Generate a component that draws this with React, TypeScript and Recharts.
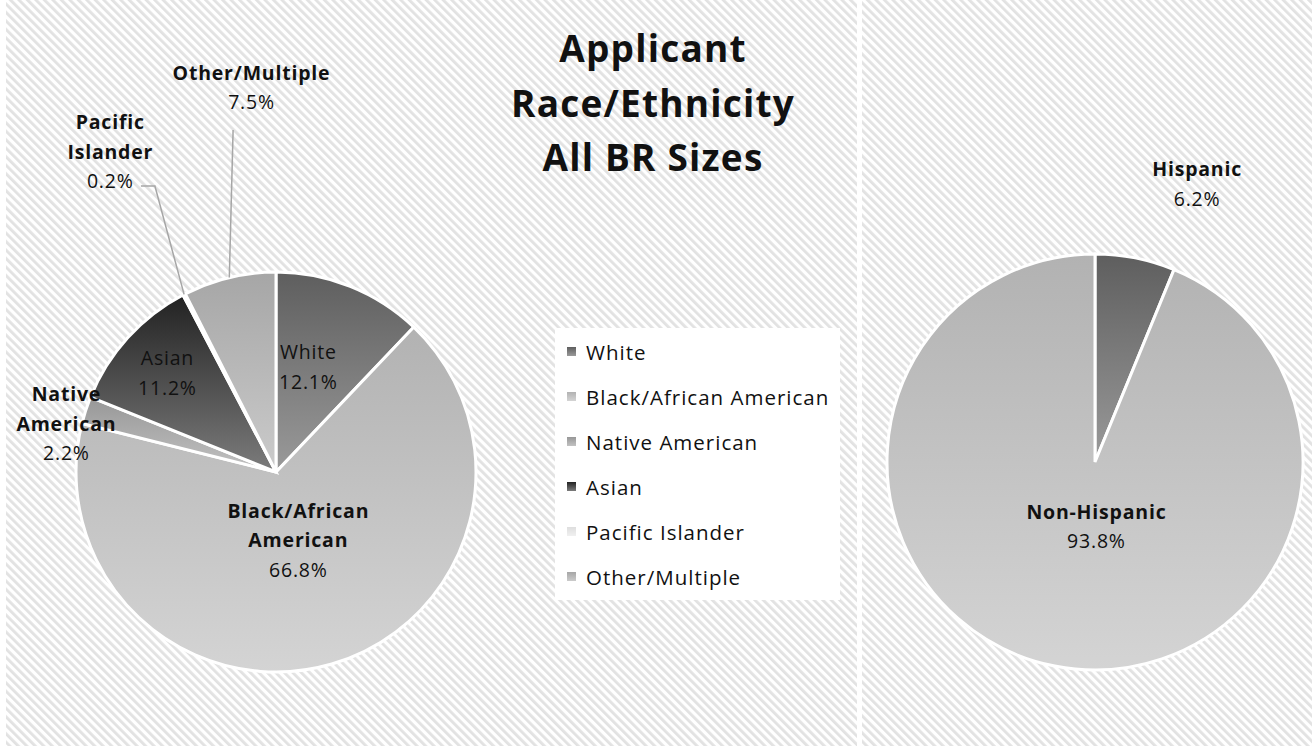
import React from 'react';
import { PieChart, Pie, Cell, Legend } from 'recharts';

// ---------- data ----------
const raceCategories = ['White', 'Black/African American', 'Native American', 'Asian', 'Pacific Islander', 'Other/Multiple'];
const raceValues = [12.1, 66.8, 2.2, 11.2, 0.2, 7.5];
const ethnicityCategories = ['Hispanic', 'Non-Hispanic'];
const ethnicityValues = [6.2, 93.8];
const titleLines = ['Applicant', 'Race/Ethnicity', 'All BR Sizes'];

const raceData = raceCategories.map((name, i) => ({ name, value: raceValues[i] }));
const ethData = ethnicityCategories.map((name, i) => ({ name, value: ethnicityValues[i] }));

// ---------- styles ----------
const FONT = "'Open Sans', 'Noto Sans', sans-serif";

const gradients: Record<string, [string, string]> = {
  'White': ['#5e5e5e', '#9a9a9a'],
  'Black/African American': ['#b2b2b2', '#d4d4d4'],
  'Native American': ['#979797', '#c2c2c2'],
  'Asian': ['#222222', '#7c7c7c'],
  'Pacific Islander': ['#dedede', '#f0f0f0'],
  'Other/Multiple': ['#a6a6a6', '#cbcbcb'],
  'Hispanic': ['#5e5e5e', '#9a9a9a'],
  'Non-Hispanic': ['#b2b2b2', '#d4d4d4'],
};
const gradId = (name: string) => 'g_' + name.replace(/[^A-Za-z]/g, '');

type Place = { lines: string[]; bold: boolean; rFrac: number; dAngle: number; leader?: 'elbow' | 'straight' };
const placement: Record<string, Place> = {
  'White': { lines: ['White'], bold: false, rFrac: 0.551, dAngle: 4.9 },
  'Black/African American': { lines: ['Black/African', 'American'], bold: true, rFrac: 0.357, dAngle: 1.7 },
  'Native American': { lines: ['Native', 'American'], bold: true, rFrac: 1.078, dAngle: 4.9 },
  'Asian': { lines: ['Asian'], bold: false, rFrac: 0.738, dAngle: -0.3 },
  'Pacific Islander': { lines: ['Pacific', 'Islander'], bold: true, rFrac: 1.807, dAngle: 0, leader: 'elbow' },
  'Other/Multiple': { lines: ['Other/Multiple'], bold: true, rFrac: 1.929, dAngle: -9.8, leader: 'straight' },
  'Hispanic': { lines: ['Hispanic'], bold: true, rFrac: 1.426, dAngle: -8.9 },
  'Non-Hispanic': { lines: ['Non-Hispanic'], bold: true, rFrac: 0.308, dAngle: 12.1 },
};

const RAD = Math.PI / 180;
const LH = 29.5;
const FS = 19.5;
const LS = 0.8;

const renderLabel = (props: any) => {
  const { cx, cy, midAngle, outerRadius, name, value } = props;
  const p = placement[name];
  if (!p) return null;
  const ang = (midAngle + p.dAngle) * RAD;
  const r = outerRadius * p.rFrac;
  const x = cx + r * Math.cos(ang);
  const y = cy - r * Math.sin(ang);
  const all = [...p.lines, `${Number(value).toFixed(1)}%`];
  const n = all.length;
  const top = y - ((n - 1) * LH) / 2;
  const edgeA = midAngle * RAD;
  const ex = cx + outerRadius * Math.cos(edgeA);
  const ey = cy - outerRadius * Math.sin(edgeA);
  let leader = null;
  if (p.leader === 'elbow') {
    const bx = x + 45, by = y + 35;
    leader = <polyline points={`${ex},${ey} ${bx},${by} ${x + 31},${by}`} fill="none" stroke="#a6a6a6" strokeWidth={1.5} />;
  } else if (p.leader === 'straight') {
    leader = <line x1={ex} y1={ey} x2={x - 18} y2={y + 43} stroke="#a6a6a6" strokeWidth={1.5} />;
  }
  return (
    <g>
      {leader}
      {all.map((t, i) => (
        <text key={i} x={x + LS / 2} y={top + i * LH} textAnchor="middle" dominantBaseline="central"
          fontFamily={FONT} fontSize={FS} letterSpacing={LS} fontWeight={p.bold && i < n - 1 ? 700 : 400} fill="#111">
          {t}
        </text>
      ))}
    </g>
  );
};

const Gradients = ({ names }: { names: string[] }) => (
  <defs>
    {names.map((n) => (
      <linearGradient key={n} id={gradId(n)} x1="0" y1="0" x2="0" y2="1">
        <stop offset="0%" stopColor={gradients[n][0]} />
        <stop offset="100%" stopColor={gradients[n][1]} />
      </linearGradient>
    ))}
  </defs>
);

const renderLegend = () => (
  <div style={{ background: '#ffffff', width: 285, height: 272, boxSizing: 'border-box', paddingTop: 1 }}>
    {raceCategories.map((n) => (
      <div key={n} style={{ display: 'flex', alignItems: 'center', height: 45, fontFamily: FONT, fontSize: 20.5, letterSpacing: 1.0, color: '#111' }}>
        <svg width={10} height={10} style={{ marginLeft: 12, marginRight: 9 }}>
          <rect x={0} y={0} width={9} height={9} fill={`url(#${gradId(n)})`} />
        </svg>
        <span>{n}</span>
      </div>
    ))}
  </div>
);

export default function App() {
  return (
    <div style={{ position: 'absolute', left: 0, top: 0, width: 1312, height: 746, background: '#fff', overflow: 'hidden' }}>
      <svg width={1312} height={746} style={{ position: 'absolute', left: 0, top: 0 }}>
        <defs>
          <pattern id="bgStripes" width={6} height={10} patternUnits="userSpaceOnUse" patternTransform="rotate(-45)">
            <rect x={0} y={0} width={2.8} height={10} fill="#e2e2e2" />
          </pattern>
        </defs>
        <rect x={6} y={0} width={851} height={746} fill="url(#bgStripes)" />
        <rect x={862} y={0} width={450} height={746} fill="url(#bgStripes)" />
      </svg>

      <div style={{ position: 'absolute', left: 403, top: 21, width: 500, textAlign: 'center', fontFamily: FONT, fontWeight: 700, fontSize: 37, letterSpacing: 1.2, lineHeight: '54.5px', color: '#111' }}>
        {titleLines.map((t) => <div key={t}>{t}</div>)}
      </div>

      <div style={{ position: 'absolute', left: 0, top: 0 }}>
        <PieChart width={857} height={746} margin={{ top: 0, right: 0, bottom: 0, left: 0 }}>
          <Gradients names={raceCategories} />
          <Pie data={raceData} dataKey="value" nameKey="name" cx={276} cy={472} outerRadius={200}
            startAngle={90} endAngle={-270} stroke="#ffffff" strokeWidth={3}
            label={renderLabel} labelLine={false} isAnimationActive={false}>
            {raceData.map((d) => <Cell key={d.name} fill={`url(#${gradId(d.name)})`} />)}
          </Pie>
          <Legend content={renderLegend} wrapperStyle={{ position: 'absolute', left: 555, top: 328, width: 285, height: 272 }} />
        </PieChart>
      </div>

      <div style={{ position: 'absolute', left: 862, top: 0 }}>
        <PieChart width={450} height={746} margin={{ top: 0, right: 0, bottom: 0, left: 0 }}>
          <Gradients names={ethnicityCategories} />
          <Pie data={ethData} dataKey="value" nameKey="name" cx={233} cy={462} outerRadius={208}
            startAngle={90} endAngle={-270} stroke="#ffffff" strokeWidth={3}
            label={renderLabel} labelLine={false} isAnimationActive={false}>
            {ethData.map((d) => <Cell key={d.name} fill={`url(#${gradId(d.name)})`} />)}
          </Pie>
        </PieChart>
      </div>
    </div>
  );
}
